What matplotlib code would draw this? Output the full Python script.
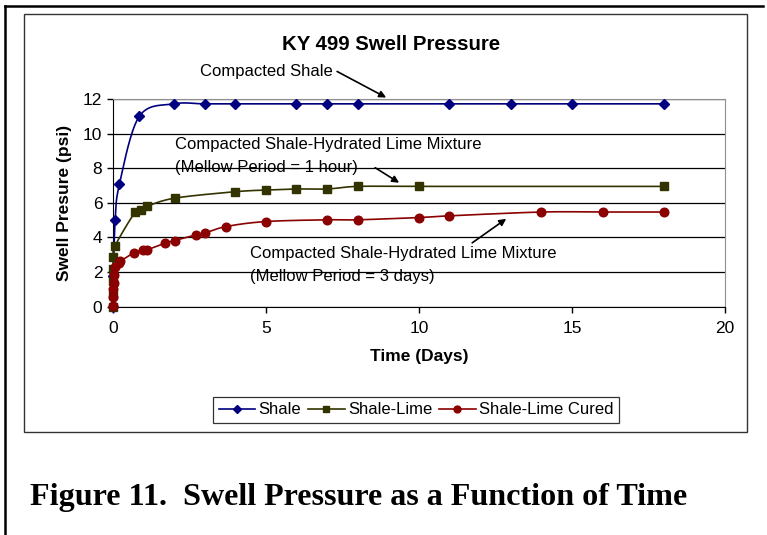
import matplotlib.pyplot as plt
import numpy as np
from matplotlib.lines import Line2D

# data
shale_days = [0, 0.02, 0.08, 0.22, 0.87, 2, 3, 4, 6, 7, 8, 11, 13, 15, 18]
shale_psi = [0, 1.8, 5.0, 7.08, 11.0, 11.72, 11.72, 11.72, 11.72, 11.72, 11.72, 11.72, 11.72, 11.72, 11.72]

lime_days = [0, 0.0, 0.0, 0.01, 0.02, 0.08, 0.73, 0.92, 1.11, 2.02, 3.98, 5.0, 6, 7, 8, 10, 18]
lime_psi = [0, 0.7, 1.5, 2.2, 2.9, 3.53, 5.46, 5.56, 5.79, 6.27, 6.64, 6.74, 6.8, 6.8, 6.95, 6.95, 6.95]

cured_days = [0, 0, 0.02, 0.04, 0.04, 0.08, 0.19, 0.24, 0.71, 0.98, 1.11, 1.71, 2.02, 2.72, 3.0, 3.7,
              5.0, 7, 8, 10, 11, 14, 16, 18]
cured_psi = [0.05, 0.58, 1.0, 1.35, 1.83, 2.3, 2.55, 2.62, 3.13, 3.28, 3.28, 3.67, 3.82, 4.15, 4.25, 4.63,
             4.92, 5.02, 5.02, 5.15, 5.25, 5.47, 5.47, 5.47]

series_names = ['Shale', 'Shale-Lime', 'Shale-Lime Cured']
series_colors = ['#000080', '#333300', '#8B0000']
series_markers = ['D', 's', 'o']

# pixel scale of the plot area, used to smooth in screen space like Excel does
PX_X, PX_Y = 30.6, 17.27


def smooth(xs, ys, n=20):
    # uniform Catmull-Rom through the points (Excel "smoothed line")
    pts = []
    for x, y in zip(xs, ys):
        p = (x * PX_X, y * PX_Y)
        if not pts or abs(p[0] - pts[-1][0]) + abs(p[1] - pts[-1][1]) > 1e-9:
            pts.append(p)
    P = np.array(pts)
    P = np.vstack([P[0], P, P[-1]])
    out = []
    t = np.linspace(0, 1, n)[:, None]
    for i in range(1, len(P) - 2):
        p0, p1, p2, p3 = P[i - 1], P[i], P[i + 1], P[i + 2]
        seg = 0.5 * ((2 * p1) + (-p0 + p2) * t + (2 * p0 - 5 * p1 + 4 * p2 - p3) * t ** 2
                     + (-p0 + 3 * p1 - 3 * p2 + p3) * t ** 3)
        out.append(seg)
    S = np.vstack(out)
    return S[:, 0] / PX_X, S[:, 1] / PX_Y


def px(x, y):
    # reference pixel -> data coordinates
    return (x - 112.7) / PX_X, (306.7 - y) / PX_Y


plt.rcParams['font.family'] = 'Liberation Sans'
fig = plt.figure(figsize=(7.67, 5.35), dpi=100)

# outer figure frame (top and left) and chart box
fig.add_artist(Line2D([5 / 767, 763 / 767], [1 - 6 / 535, 1 - 6 / 535], color='black', lw=1.8))
fig.add_artist(Line2D([5 / 767, 5 / 767], [0, 1 - 6 / 535], color='black', lw=1.8))
fig.add_artist(plt.Rectangle((24 / 767, 1 - 432 / 535), 723 / 767, 418 / 535, fill=False,
                             edgecolor='#333333', lw=1.0))

ax = fig.add_axes([112.7 / 767, 1 - 306.7 / 535, 612.3 / 767, 207.7 / 535])

all_data = [(shale_days, shale_psi), (lime_days, lime_psi), (cured_days, cured_psi)]
ms = {'D': 5.2, 's': 5.8, 'o': 6.2}
for (xs, ys), name, col, mk in zip(all_data, series_names, series_colors, series_markers):
    sx, sy = smooth(xs, ys)
    ax.plot(sx, sy, color=col, lw=1.2, zorder=3, clip_on=False)
    ax.plot(xs, ys, ls='none', marker=mk, ms=ms[mk], color=col, zorder=4, clip_on=False)

ax.set_xlim(0, 20)
ax.set_ylim(0, 12)
ax.set_xticks([0, 5, 10, 15, 20])
ax.set_yticks(range(0, 13, 2))
ax.tick_params(labelsize=12.5, length=4, width=1, direction='out', color='black')
ax.tick_params(axis='x', pad=6)
ax.grid(axis='y', color='black', lw=0.9)
ax.set_axisbelow(True)
for s in ['top', 'right']:
    ax.spines[s].set_color('#909090')
for s in ['left', 'bottom']:
    ax.spines[s].set_color('black')

ax.set_xlabel('Time (Days)', fontsize=12.5, fontweight='bold', labelpad=10)
ax.set_ylabel('Swell Presure (psi)', fontsize=12.5, fontweight='bold', labelpad=8)
fig.text(391 / 767, 1 - 44 / 535, 'KY 499 Swell Pressure', fontsize=14.7, fontweight='bold',
         ha='center', va='center')

# annotations
arrow = dict(arrowstyle='-|>', color='black', lw=1.2, mutation_scale=10, shrinkA=0, shrinkB=0)
ax.text(*px(200, 72), 'Compacted Shale', fontsize=12, va='center', clip_on=False)
ax.annotate('', xy=px(386, 98), xytext=px(337, 72), arrowprops=arrow, annotation_clip=False)
ax.text(*px(175, 145), 'Compacted Shale-Hydrated Lime Mixture', fontsize=12, va='center')
ax.text(*px(175, 168), '(Mellow Period = 1 hour)', fontsize=12, va='center')
ax.annotate('', xy=px(399, 183), xytext=px(375, 168), arrowprops=arrow)
ax.text(*px(250, 254), 'Compacted Shale-Hydrated Lime Mixture', fontsize=12, va='center')
ax.text(*px(250, 277), '(Mellow Period = 3 days)', fontsize=12, va='center')
ax.annotate('', xy=px(506, 219), xytext=px(472, 243), arrowprops=arrow)

handles = [Line2D([], [], color=c, marker=m, ms=ms[m] * 0.8, lw=1.2)
           for c, m in zip(series_colors, series_markers)]
leg = fig.legend(handles, series_names, loc='center', bbox_to_anchor=(416 / 767, 1 - 410 / 535),
                 ncol=3, fontsize=12, frameon=True, fancybox=False, edgecolor='black',
                 handlelength=2.2, handletextpad=0.2, columnspacing=0.4, borderpad=0.35)
leg.get_frame().set_linewidth(0.9)

fig.text(30 / 767, 1 - 505 / 535, 'Figure 11.  Swell Pressure as a Function of Time',
         fontsize=23.1, fontweight='bold', family='Liberation Serif', va='baseline')

fig.savefig('out.png', dpi=100)
